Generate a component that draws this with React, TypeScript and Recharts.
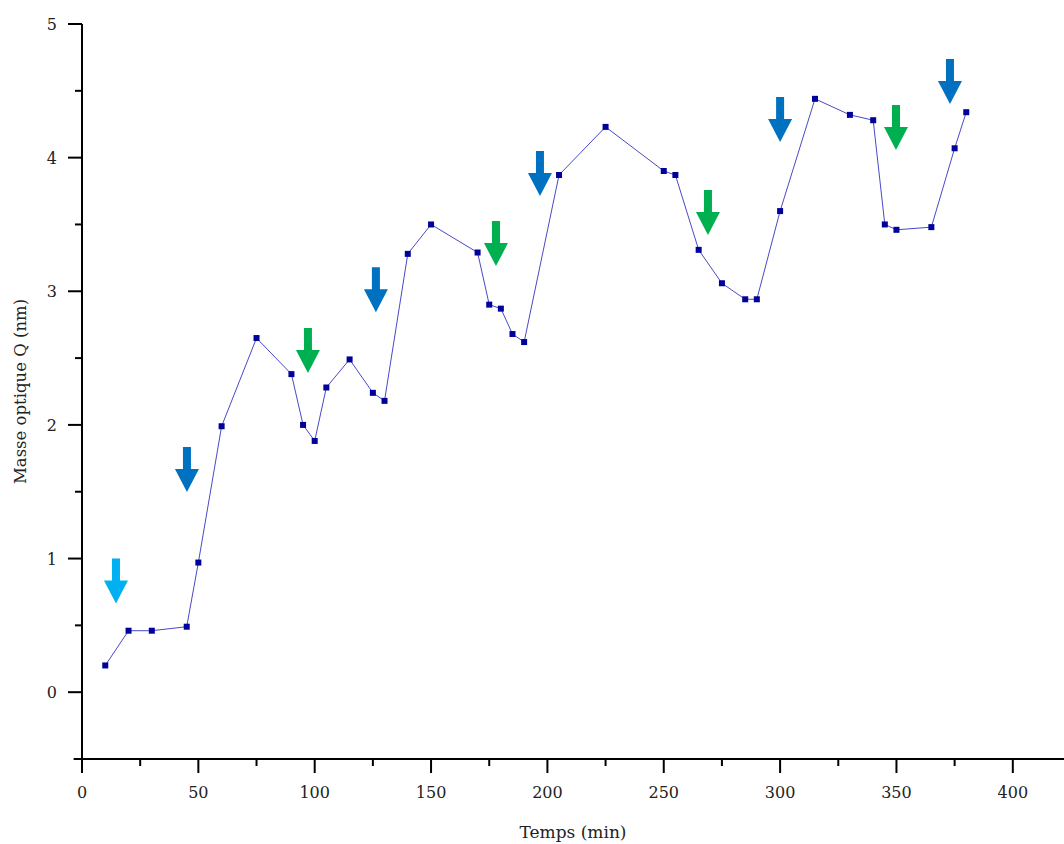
import React from "react";
import { ComposedChart, Line, XAxis, YAxis, ReferenceDot, ReferenceLine, Label } from "recharts";

const times = [10, 20, 30, 45, 50, 60, 75, 90, 95, 100, 105, 115, 125, 130, 140, 150, 170, 175, 180, 185, 190, 205, 225, 250, 255, 265, 275, 285, 290, 300, 315, 330, 340, 345, 350, 365, 375, 380];
const masses = [0.20, 0.46, 0.46, 0.49, 0.97, 1.99, 2.65, 2.38, 2.00, 1.88, 2.28, 2.49, 2.24, 2.18, 3.28, 3.50, 3.29, 2.90, 2.87, 2.68, 2.62, 3.87, 4.23, 3.90, 3.87, 3.31, 3.06, 2.94, 2.94, 3.60, 4.44, 4.32, 4.28, 3.50, 3.46, 3.48, 4.07, 4.34];

const arrowX = [14.6, 45.1, 97.1, 126.3, 177.9, 196.8, 269, 300, 349.8, 373];
const arrowY = [1.0, 1.834, 2.725, 3.18, 3.525, 4.05, 3.757, 4.454, 4.394, 4.738];
const arrowKind = ["light", "blue", "green", "blue", "green", "blue", "green", "blue", "green", "blue"];
const arrowColors: Record<string, string> = { light: "#00B0F0", blue: "#0070C0", green: "#00B050" };

const xTicks = [0, 25, 50, 75, 100, 125, 150, 175, 200, 225, 250, 275, 300, 325, 350, 375, 400];
const yTicks = [0, 0.5, 1, 1.5, 2, 2.5, 3, 3.5, 4, 4.5, 5];

const data = times.map((t, i) => ({ t, q: masses[i] }));
const FONT = "DejaVu Serif";

const XTick = (props: any) => {
  const { x, y, payload } = props;
  const v = payload.value;
  const major = v % 50 === 0;
  return (
    <g>
      <line x1={x} x2={x} y1={y} y2={y + (major ? 14 : 7)} stroke="#000" strokeWidth={2} />
      {major && (
        <text x={x} y={y + 39} textAnchor="middle" fontFamily={FONT} fontSize={16} fill="#222">
          {v}
        </text>
      )}
    </g>
  );
};

const YTick = (props: any) => {
  const { x, y, payload } = props;
  const v = payload.value;
  const major = Number.isInteger(v);
  return (
    <g>
      <line x1={x} x2={x - (major ? 14 : 7)} y1={y} y2={y} stroke="#000" strokeWidth={2} />
      {major && (
        <text x={x - 25} y={y + 6} textAnchor="end" fontFamily={FONT} fontSize={16} fill="#222">
          {v}
        </text>
      )}
    </g>
  );
};

const SquareDot = (props: any) => {
  const { cx, cy } = props;
  if (cx == null || cy == null) return null;
  return <rect x={cx - 3} y={cy - 3} width={6} height={6} fill="#00009A" />;
};

const makeArrow = (color: string) => (props: any) => {
  const { cx, cy } = props;
  const pts = [
    [cx - 4, cy],
    [cx + 4, cy],
    [cx + 4, cy + 22],
    [cx + 12, cy + 22],
    [cx, cy + 45],
    [cx - 12, cy + 22],
    [cx - 4, cy + 22],
  ]
    .map((p) => p.join(","))
    .join(" ");
  return <polygon points={pts} fill={color} />;
};

export default function App() {
  return (
    <div style={{ position: "absolute", left: 0, top: 0 }}>
      <ComposedChart
        width={1064}
        height={844}
        data={data}
        margin={{ top: 24, right: 0, left: 0, bottom: 0 }}
      >
        <XAxis
          dataKey="t"
          type="number"
          domain={[0, 422]}
          ticks={xTicks}
          interval={0}
          axisLine={false}
          tickLine={false}
          tickSize={0}
          tickMargin={0}
          tick={<XTick />}
          height={85}
        >
          <Label value="Temps (min)" position="insideBottom" offset={6} fontFamily={FONT} fontSize={17} fill="#222" />
        </XAxis>
        <YAxis
          type="number"
          domain={[-0.5, 5]}
          ticks={yTicks}
          interval={0}
          width={82}
          axisLine={{ stroke: "#000", strokeWidth: 2 }}
          tickLine={false}
          tickSize={0}
          tickMargin={0}
          tick={<YTick />}
        >
          <Label
            value="Masse optique Q (nm)"
            angle={-90}
            position="insideLeft"
            offset={20}
            style={{ textAnchor: "middle" }}
            fontFamily={FONT}
            fontSize={16.5}
            fill="#222"
          />
        </YAxis>
        <ReferenceLine
          segment={[{ x: -3.6, y: -0.5 }, { x: 422, y: -0.5 }]}
          ifOverflow="visible"
          stroke="#000"
          strokeWidth={2}
        />
        <Line
          dataKey="q"
          stroke="#1a1ab8"
          strokeWidth={0.8}
          dot={<SquareDot />}
          activeDot={false}
          isAnimationActive={false}
        />
        {arrowX.map((ax, i) => (
          <ReferenceDot
            key={i}
            x={ax}
            y={arrowY[i]}
            r={1}
            ifOverflow="visible"
            shape={makeArrow(arrowColors[arrowKind[i]])}
          />
        ))}
      </ComposedChart>
    </div>
  );
}
